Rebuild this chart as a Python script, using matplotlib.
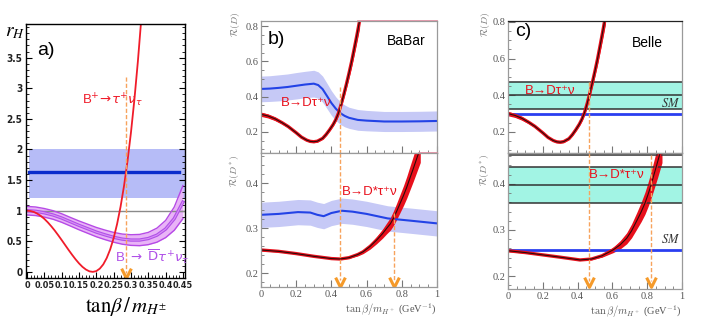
import numpy as np
import matplotlib
matplotlib.use('Agg')
import matplotlib.pyplot as plt
from matplotlib import font_manager
from matplotlib.font_manager import FontProperties
from matplotlib.ticker import MultipleLocator

SANS = ['Liberation Sans', 'DejaVu Sans']
SERIF = ['Liberation Serif', 'DejaVu Serif']

# narrow bold face for panel a tick labels, if the system has one
_cond = sorted(f.fname for f in font_manager.fontManager.ttflist
               if ('Condensed' in f.fname or 'Narrow' in f.fname)
               and 'Bold' in f.fname and 'Oblique' not in f.fname
               and 'Italic' not in f.fname)
if _cond:
    TICK_A = FontProperties(fname=_cond[0], size=6.5)
else:
    TICK_A = FontProperties(family='Liberation Sans', weight='bold', size=5.9)

plt.rcParams.update({
    'font.family': SANS,
    'mathtext.fontset': 'dejavusans',
    'axes.linewidth': 1.0,
})

# ---------------- panel a: r_H vs tan(beta)/m_H ----------------
a_taunu_x = [0.00, 0.01, 0.02, 0.03, 0.04, 0.05, 0.06, 0.07, 0.08, 0.09, 0.10, 0.11,
             0.12, 0.13, 0.14, 0.15, 0.16, 0.17, 0.18, 0.19, 0.20, 0.21, 0.22, 0.23,
             0.24, 0.25, 0.26, 0.27, 0.28, 0.29, 0.30, 0.31, 0.32, 0.33]
a_taunu_r = [1.000, 0.994, 0.978, 0.950, 0.913, 0.866, 0.809, 0.745, 0.675, 0.599,
             0.520, 0.439, 0.358, 0.280, 0.206, 0.139, 0.082, 0.038, 0.009, 0.000,
             0.013, 0.053, 0.122, 0.226, 0.367, 0.551, 0.783, 1.066, 1.406, 1.808,
             2.278, 2.820, 3.441, 4.146]
a_dtau_x = [0.000, 0.025, 0.050, 0.075, 0.100, 0.125, 0.150, 0.175, 0.200, 0.225,
            0.250, 0.275, 0.300, 0.325, 0.350, 0.375, 0.400, 0.425, 0.450]
a_dtau_r = [1.00, 0.99, 0.965, 0.93, 0.88, 0.82, 0.76, 0.705, 0.65, 0.605,
            0.565, 0.535, 0.52, 0.52, 0.545, 0.60, 0.70, 0.87, 1.14]
a_dtau_err = [0.07, 0.07, 0.07, 0.07, 0.07, 0.07, 0.072, 0.074, 0.076, 0.078,
              0.08, 0.083, 0.087, 0.092, 0.10, 0.115, 0.14, 0.19, 0.27]
a_exp, a_exp_lo, a_exp_hi = 1.63, 1.215, 2.0
a_sm = 1.0
a_arrow_x, a_arrow_top = 0.287, 3.18

# ---------------- panel b: BaBar ----------------
bu_x = [0, 0.05, 0.1, 0.15, 0.2, 0.25, 0.3, 0.325, 0.35, 0.375, 0.4, 0.425, 0.45,
        0.475, 0.5, 0.55, 0.6, 0.7, 0.8, 0.9, 1.0]
bu_meas = [0.444, 0.446, 0.45, 0.455, 0.462, 0.469, 0.474, 0.466, 0.443, 0.404, 0.364,
           0.332, 0.307, 0.291, 0.280, 0.268, 0.264, 0.259, 0.259, 0.26, 0.262]
bu_err = [0.073, 0.073, 0.074, 0.074, 0.075, 0.075, 0.076, 0.075, 0.074, 0.072, 0.07,
          0.067, 0.064, 0.062, 0.06, 0.059, 0.058, 0.057, 0.057, 0.057, 0.057]

rd_th_x = [0, 0.04, 0.08, 0.12, 0.155, 0.2, 0.23, 0.26, 0.28, 0.3, 0.32, 0.35, 0.37,
           0.39, 0.41, 0.425, 0.44, 0.455, 0.47, 0.485, 0.5, 0.515, 0.53, 0.545, 0.56]
rd_th = [0.30, 0.29, 0.274, 0.252, 0.23, 0.195, 0.17, 0.153, 0.146, 0.144, 0.147,
         0.163, 0.185, 0.212, 0.242, 0.27, 0.306, 0.355, 0.41, 0.47, 0.533, 0.60,
         0.674, 0.75, 0.83]
rd_th_err = [0.012, 0.011, 0.01, 0.008, 0.007, 0.006, 0.005, 0.005, 0.005, 0.005, 0.005,
             0.005, 0.006, 0.007, 0.008, 0.01, 0.012, 0.015, 0.018, 0.022, 0.026, 0.03,
             0.034, 0.038, 0.042]

bl_x = [0, 0.1, 0.21, 0.28, 0.32, 0.356, 0.4, 0.46, 0.52, 0.6, 0.72, 0.85, 1.0]
bl_meas = [0.330, 0.332, 0.336, 0.335, 0.330, 0.327, 0.334, 0.339, 0.337, 0.332,
           0.322, 0.317, 0.311]
bl_err = [0.028] * 13

bl_th_x = [0, 0.1, 0.2, 0.3, 0.4, 0.45, 0.5, 0.55, 0.58, 0.62, 0.657, 0.69, 0.714,
           0.735, 0.752, 0.77, 0.79, 0.81, 0.828, 0.845, 0.865, 0.885, 0.905]
bl_th = [0.252, 0.249, 0.244, 0.238, 0.233, 0.232, 0.235, 0.242, 0.248, 0.26, 0.274,
         0.288, 0.30, 0.310, 0.322, 0.337, 0.355, 0.373, 0.391, 0.41, 0.432, 0.455, 0.478]
bl_th_err = [0.002, 0.0015, 0.001, 0.001, 0.001, 0.001, 0.0015, 0.003, 0.004, 0.006,
             0.008, 0.01, 0.012, 0.014, 0.016, 0.018, 0.02, 0.022, 0.024, 0.026,
             0.028, 0.03, 0.032]
b_arrow_x = [0.447, 0.756]
b_arrow_top = [0.457, 0.334]

# ---------------- panel c: Belle ----------------
cu_meas, cu_lo, cu_hi, cu_sm = 0.40, 0.325, 0.47, 0.30
cl_meas, cl_lo, cl_hi, cl_sm, cl_top = 0.398, 0.358, 0.436, 0.257, 0.463
cl_th_x = [0, 0.1, 0.2, 0.3, 0.414, 0.48, 0.54, 0.605, 0.645, 0.682, 0.71, 0.74,
           0.765, 0.787, 0.803, 0.816, 0.83, 0.845, 0.86, 0.874, 0.885]
cl_th = [0.255, 0.251, 0.246, 0.241, 0.235, 0.237, 0.244, 0.257, 0.268, 0.282, 0.298,
         0.32, 0.339, 0.358, 0.375, 0.39, 0.408, 0.428, 0.448, 0.467, 0.482]
cl_th_err = [0.002, 0.0015, 0.001, 0.001, 0.001, 0.0015, 0.003, 0.006, 0.009, 0.012,
             0.015, 0.018, 0.021, 0.024, 0.026, 0.028, 0.03, 0.032, 0.034, 0.035, 0.036]
c_arrow_x = [0.467, 0.822]
c_arrow_top = [0.47, 0.463]

RED = '#e8101c'
ORANGE = '#f7a35c'
CHEV = '#f59a2a'
GRAY_TXT = '#555555'
CHEVRON = [(-1, 1), (0, -1), (1, 1)]

fig = plt.figure(figsize=(7.06, 3.33), dpi=100)


def px_axes(l, t, r, b):
    return fig.add_axes([l / 706, 1 - b / 333, (r - l) / 706, (b - t) / 333])


# ======== a ========
ax = px_axes(26, 24, 185, 278)
ax.set_xlim(-0.003, 0.456)
ax.set_ylim(-0.1, 4.05)
ax.axhspan(a_exp_lo, a_exp_hi, xmin=0.017, xmax=1.0, color='#b6bcf7', lw=0)
ax.axhline(a_exp, xmin=0.017, xmax=0.965, color='#0a2ccc', lw=2.4)
ax.axhline(a_sm, color='#8a8a8a', lw=1.0)
lo = np.array(a_dtau_r) - np.array(a_dtau_err)
hi = np.array(a_dtau_r) + np.array(a_dtau_err)
ax.fill_between(a_dtau_x, lo, hi, color='#e9b4f7', lw=0)
ax.plot(a_dtau_x, lo, color='#b64ae6', lw=1.0)
ax.plot(a_dtau_x, hi, color='#b64ae6', lw=1.0)
ax.plot(a_dtau_x, a_dtau_r, color='#b050e8', lw=2.4)
ax.plot(a_dtau_x, a_dtau_r, color='#d890f5', lw=0.8)
ax.plot(a_taunu_x, a_taunu_r, color='#f01c2a', lw=1.3)
ax.plot([a_arrow_x, a_arrow_x], [a_arrow_top, -0.02], color=ORANGE, lw=1.0,
        dashes=(3, 1.5))
ax.plot(a_arrow_x, -0.02, marker=CHEVRON, ms=7, mfc='none', mec=CHEV, mew=2.2)
ax.set_xticks([0, 0.05, 0.1, 0.15, 0.2, 0.25, 0.3, 0.35, 0.4, 0.45])
ax.set_xticklabels(['0', '0.05', '0.1', '0.15', '0.2', '0.25', '0.3', '0.35', '0.4', '0.45'])
ax.set_yticks([0, 0.5, 1, 1.5, 2, 2.5, 3, 3.5])
ax.set_yticklabels(['0', '0.5', '1', '1.5', '2', '2.5', '3', '3.5'])
ax.xaxis.set_minor_locator(MultipleLocator(0.01))
ax.yaxis.set_minor_locator(MultipleLocator(0.1))
ax.tick_params(which='both', direction='in', right=True, top=False)
ax.tick_params(which='major', length=4, pad=2.5)
ax.tick_params(which='minor', length=2)
for lab in ax.get_xticklabels() + ax.get_yticklabels():
    lab.set_fontproperties(TICK_A)
    lab.set_color('#222222')
for lab in ax.get_yticklabels():
    lab.set_fontsize(7.2)
ax.text(0.03, 3.62, 'a)', fontsize=14, va='center', ha='left')
ax.text(0.245, 2.8, r'B$^{+}\!\rightarrow\!\tau^{+}\nu_{\tau}$', color='#f01c2a',
        fontsize=9.5, ha='center', va='center')
ax.text(0.362, 0.24, r'B $\rightarrow$ $\overline{\mathrm{D}}\tau^{+}\nu_{\tau}$',
        color='#b050e8', fontsize=9.5, ha='center', va='center')
fig.text(126 / 706, 1 - 306 / 333, r'$\mathrm{tan}\beta\,/\,m_{H^{\pm}}$', fontsize=15,
         ha='center', va='center', math_fontfamily='stix')
fig.text(15 / 706, 1 - 32 / 333, r'$r_H$', fontsize=14, ha='center', va='center',
         math_fontfamily='stix')


def style_root(ax, ylim, minor, yticks, xlabels, spine_color='#9a9a9a'):
    ax.set_xlim(0, 1)
    ax.set_ylim(*ylim)
    for s in ax.spines.values():
        s.set_color(spine_color)
        s.set_linewidth(0.9)
    ax.set_yticks(yticks)
    ax.set_yticklabels([f'{v:g}' for v in yticks])
    ax.xaxis.set_major_locator(MultipleLocator(0.2))
    ax.xaxis.set_minor_locator(MultipleLocator(0.05))
    ax.yaxis.set_minor_locator(MultipleLocator(minor))
    ax.tick_params(which='both', direction='in', color='#777777', top=False, right=False,
                   labelsize=7.5, labelcolor=GRAY_TXT, pad=2)
    ax.tick_params(which='major', length=5)
    ax.tick_params(which='minor', length=2.5)
    for lab in ax.get_yticklabels():
        lab.set_family(SERIF)
    if xlabels:
        ax.set_xticks([0, 0.2, 0.4, 0.6, 0.8, 1.0])
        ax.set_xticklabels(['0', '0.2', '0.4', '0.6', '0.8', '1'])
        for lab in ax.get_xticklabels():
            lab.set_family(SERIF)
        ax.set_xlabel(r'$\tan\beta/m_{H^+}$ (GeV$^{-1}$)', loc='right', fontsize=7.5,
                      color=GRAY_TXT, family=SERIF, math_fontfamily='cm', labelpad=2)
    else:
        ax.set_xticklabels([])


def theory(ax, x, y, e):
    y = np.array(y)
    e = np.array(e)
    ax.fill_between(x, y - e, y + e, color=RED, lw=0)
    ax.plot(x, y, color=RED, lw=2.4, solid_capstyle='butt')
    ax.plot(x, y, color='#2a0a0a', lw=0.8)


def arrow_line(ax, x, top, bottom, chevron=None):
    ax.plot([x, x], [top, bottom], color=ORANGE, lw=1.0, dashes=(3, 1.5))
    if chevron is not None:
        ax.plot(x, chevron, marker=CHEVRON, ms=7, mfc='none', mec=CHEV, mew=2.2)


def rlabel(ax, x, ytop, text):
    ax.text(x, ytop, text, transform=ax.transAxes, rotation=90, ha='center', va='top',
            fontsize=7, color='#777777', math_fontfamily='cm')


# ======== b upper ========
ax = px_axes(261, 21, 437, 153)
style_root(ax, (0.08, 0.83), 0.05, [0.2, 0.4, 0.6, 0.8], False)
m = np.array(bu_meas)
e = np.array(bu_err)
ax.fill_between(bu_x, m - e, m + e, color='#c6c9f6', lw=0)
ax.plot(bu_x, m, color='#2343e6', lw=1.5)
theory(ax, rd_th_x, rd_th, rd_th_err)
ax.plot([rd_th_x[-1] - 0.01, 1.0], [0.83, 0.83], color='#e68aa0', lw=1.2, clip_on=False)
arrow_line(ax, b_arrow_x[0], b_arrow_top[0], 0.08)
ax.text(0.04, 0.86, 'b)', transform=ax.transAxes, fontsize=14, va='center')
ax.text(0.935, 0.847, 'BaBar', transform=ax.transAxes, fontsize=10, ha='right',
        va='center')
ax.text(0.255, 0.364, 'B\u2192D\u03c4\u207a\u03bd', color=RED, fontsize=9.5,
        ha='center', va='center', family=SANS)
rlabel(ax, -0.145, 1.065, r'$\mathcal{R}(D)$')

# ======== b lower ========
ax = px_axes(261, 153, 437, 287)
style_root(ax, (0.170, 0.467), 0.02, [0.2, 0.3, 0.4], True)
m = np.array(bl_meas)
e = np.array(bl_err)
ax.fill_between(bl_x, m - e, m + e, color='#c6c9f6', lw=0)
ax.plot(bl_x, m, color='#2343e6', lw=1.5)
theory(ax, bl_th_x, bl_th, bl_th_err)
ax.plot([bl_th_x[-1] - 0.01, 1.0], [0.467, 0.467], color='#e68aa0', lw=1.2, clip_on=False)
arrow_line(ax, b_arrow_x[0], 0.467, 0.185, 0.182)
arrow_line(ax, b_arrow_x[1], b_arrow_top[1], 0.185, 0.182)
ax.text(0.62, 0.381, 'B\u2192D*\u03c4\u207a\u03bd', color=RED, fontsize=9.5,
        ha='center', va='center', family=SANS)
rlabel(ax, -0.145, 0.985, r'$\mathcal{R}(D^*)$')

# ======== c upper ========
ax = px_axes(508, 21, 682, 153)
style_root(ax, (0.085, 0.805), 0.05, [0.2, 0.4, 0.6, 0.8], False)
ax.spines['top'].set_color('#222222')
ax.axhspan(cu_lo, cu_hi, color='#a2f4e4', lw=0)
for v in (cu_lo, cu_meas, cu_hi):
    ax.axhline(v, color='#333333', lw=1.1)
ax.axhline(cu_sm, color='#2a3ef0', lw=2.0)
theory(ax, rd_th_x, rd_th, rd_th_err)
arrow_line(ax, c_arrow_x[0], c_arrow_top[0], 0.085)
ax.text(0.04, 0.92, 'c)', transform=ax.transAxes, fontsize=14, va='center')
ax.text(0.89, 0.833, 'Belle', transform=ax.transAxes, fontsize=10, ha='right',
        va='center')
ax.text(0.24, 0.423, 'B\u2192D\u03c4\u207a\u03bd', color=RED, fontsize=9.5,
        ha='center', va='center', family=SANS)
ax.text(0.935, 0.355, r'$SM$', fontsize=9, ha='center', va='center', color='#333333',
        math_fontfamily='stix')
rlabel(ax, -0.13, 1.065, r'$\mathcal{R}(D)$')

# ======== c lower ========
ax = px_axes(508, 153, 682, 289)
style_root(ax, (0.172, 0.467), 0.02, [0.2, 0.3, 0.4], True)
ax.axhspan(cl_lo, cl_hi, color='#a2f4e4', lw=0)
for v in (cl_lo, cl_meas, cl_hi, cl_top):
    ax.axhline(v, color='#333333', lw=1.1)
ax.axhline(cl_sm, color='#2a3ef0', lw=2.0)
theory(ax, cl_th_x, cl_th, cl_th_err)
arrow_line(ax, c_arrow_x[0], 0.467, 0.19, 0.187)
arrow_line(ax, c_arrow_x[1], c_arrow_top[1], 0.19, 0.187)
ax.text(0.625, 0.42, 'B\u2192D*\u03c4\u207a\u03bd', color=RED, fontsize=9.5,
        ha='center', va='center', family=SANS)
ax.text(0.935, 0.28, r'$SM$', fontsize=9, ha='center', va='center', color='#333333',
        math_fontfamily='stix')
rlabel(ax, -0.13, 0.995, r'$\mathcal{R}(D^*)$')

fig.savefig('out.png', dpi=100)
